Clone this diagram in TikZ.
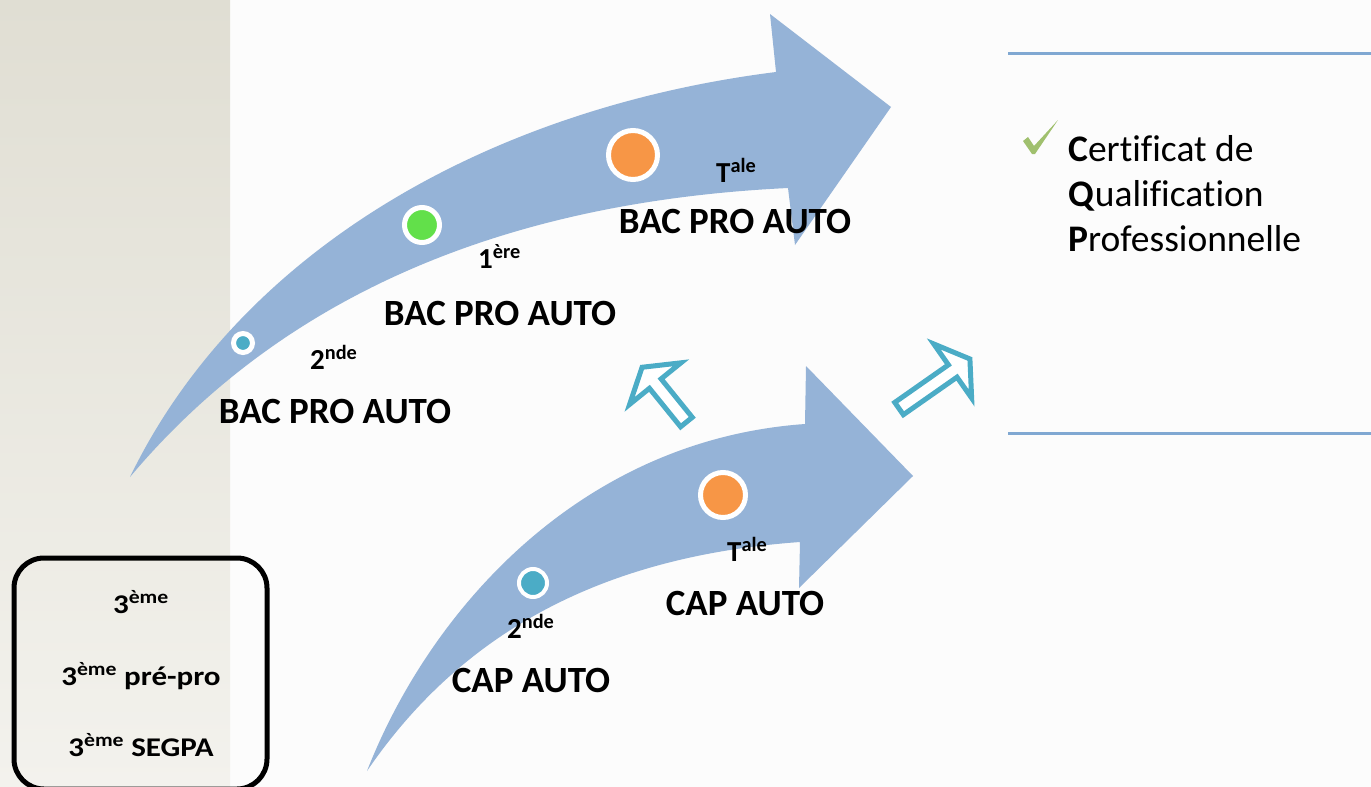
\documentclass[tikz,border=0pt]{standalone}
\usepackage{fontspec}
\setmainfont{Carlito}[Ligatures=NoCommon]
\usepackage{tikz}
\definecolor{bandblue}{RGB}{149,179,215}
\definecolor{dotteal}{RGB}{75,172,198}
\definecolor{dotgreen}{RGB}{98,224,74}
\definecolor{dotorange}{RGB}{247,150,70}
\definecolor{tickgreen}{RGB}{160,192,110}
\definecolor{ruleblue}{RGB}{128,168,210}
\definecolor{stripTop}{RGB}{224,222,211}
\definecolor{stripBot}{RGB}{243,242,237}
\definecolor{pagebg}{RGB}{252,252,252}

% hollow arrow: tail, angle, length
\newcommand{\openarrow}[3]{%
    \draw[hollow,shift={#1},rotate=#2] (2.5,-7.5) -- ({#3-24},-7.5) -- ({#3-24},-33)
      -- ({#3-3},0) -- ({#3-24},33) -- ({#3-24},7.5) -- (2.5,7.5) -- cycle;}

\begin{document}
\begin{tikzpicture}[x=1pt,y=-1pt,
    dot/.style={circle,draw=white,line width=5pt,inner sep=0pt},
    hollow/.style={draw=dotteal,fill=white,line width=5pt,line join=miter},
    bigtxt/.style={font=\fontsize{37}{42}\selectfont\bfseries,anchor=base,inner sep=0pt},
    yeartxt/.style={font=\fontsize{29}{33}\selectfont\bfseries,anchor=base west,inner sep=0pt},
    boxtxt/.style={font=\fontsize{27}{30}\selectfont\bfseries,anchor=base,inner sep=0pt,
        xscale=1.15,transform shape},
    certtxt/.style={font=\fontsize{37.5}{45}\selectfont,anchor=base west,inner sep=0pt}]
    % Background
    \useasboundingbox (0,0) rectangle (1371,787);
    \clip (0,0) rectangle (1371,787);
    \fill[pagebg] (0,0) rectangle (1371,787);
    \shade[top color=stripTop,bottom color=stripBot] (0,0) rectangle (230,787);

    % Draw the panel rules
    \draw[ruleblue,line width=3pt] (1008,53) -- (1371,53);
    \draw[ruleblue,line width=3pt] (1008,433) -- (1371,433);

    % Draw the two curved arrows
    \fill[bandblue] (130,477) .. controls (240,250) and (490,108) .. (776,72)
        -- (770,14) -- (891,107) -- (795,245) -- (788,188)
        .. controls (540,200) and (300,275) .. (130,477) -- cycle;
    \fill[bandblue] (367,771) .. controls (430,610) and (580,440) .. (805,424)
        -- (806,366) -- (913,476) -- (799,588) -- (800,542)
        .. controls (620,555) and (470,620) .. (367,771) -- cycle;

    % Draw the dots
    \node[dot,fill=dotteal,minimum size=19pt] (bacA) at (243,343) {};
    \node[dot,fill=dotgreen,minimum size=35pt] (bacB) at (422,225) {};
    \node[dot,fill=dotorange,minimum size=49pt] (bacC) at (633,155) {};
    \node[dot,fill=dotteal,minimum size=28pt,line width=4pt] (capA) at (533,583) {};
    \node[dot,fill=dotorange,minimum size=45pt] (capB) at (723,495) {};

    % Draw the hollow arrows
    \openarrow{(688,424)}{129}{76}
    \openarrow{(897,410)}{35}{92}

    % Labels on the arrows
    \node[yeartxt] (yrA) at (310,369) {2\textsuperscript{nde}};
    \node[bigtxt] (bacAtxt) at (335,423) {BAC PRO AUTO};
    \node[yeartxt] (yrB) at (478,268) {1\textsuperscript{ère}};
    \node[bigtxt] (bacBtxt) at (500,325) {BAC PRO AUTO};
    \node[yeartxt] (yrC) at (716,182) {T\textsuperscript{ale}};
    \node[bigtxt] (bacCtxt) at (735,233) {BAC PRO AUTO};
    \node[yeartxt] (cyrA) at (507,638) {2\textsuperscript{nde}};
    \node[bigtxt] (capAtxt) at (531,692) {CAP AUTO};
    \node[yeartxt] (cyrB) at (727,561) {T\textsuperscript{ale}};
    \node[bigtxt] (capBtxt) at (745,615) {CAP AUTO};

    % Draw the starting box
    \draw[line width=5pt,rounded corners=30pt] (14,558) rectangle (267,789);
    \node[boxtxt] (third) at (141,613) {3\textsuperscript{ème}};
    \node[boxtxt] (prepro) at (141,685) {3\textsuperscript{ème} pré-pro};
    \node[boxtxt] (segpa) at (141,756) {3\textsuperscript{ème} SEGPA};

    % Certificate
    \fill[tickgreen] (1023,141) -- (1028,137) -- (1034,146) -- (1058,120)
        -- (1035,154) -- (1032,154) -- cycle;
    \node[certtxt] (cqpC) at (1068,161) {\textbf{C}ertificat de};
    \node[certtxt] (cqpQ) at (1068,206) {\textbf{Q}ualification};
    \node[certtxt] (cqpP) at (1068,251) {\textbf{P}rofessionnelle};
\end{tikzpicture}
\end{document}
